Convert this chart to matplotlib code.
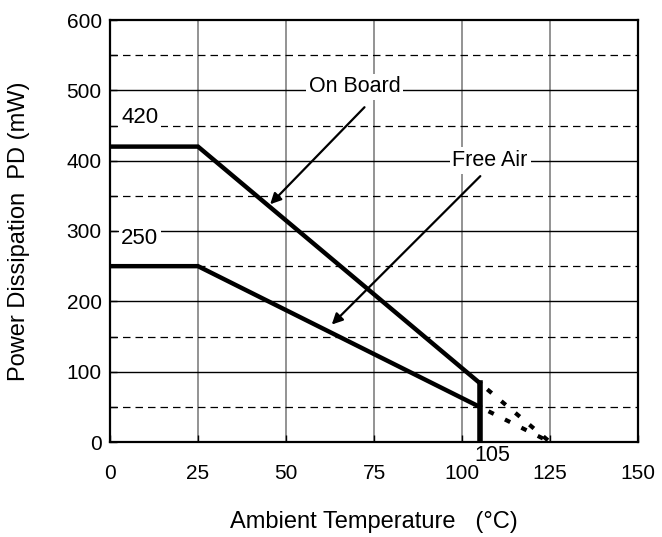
import matplotlib
matplotlib.use("Agg")
import matplotlib.pyplot as plt

plt.rcParams['font.family'] = ['Liberation Sans', 'DejaVu Sans']

# data
onboard_x = [0, 25, 105]
onboard_y = [420, 420, 84]
freeair_x = [0, 25, 105]
freeair_y = [250, 250, 50]
onboard_ext_x = [105, 125]
onboard_ext_y = [84, 0]
freeair_ext_x = [105, 125]
freeair_ext_y = [50, 0]
cutoff_x = [105, 105]
cutoff_y = [0, 84]
x_ticks = [0, 25, 50, 75, 100, 125, 150]
y_ticks = [0, 100, 200, 300, 400, 500, 600]

fig = plt.figure(figsize=(6.62, 5.37), dpi=100)
ax = fig.add_axes([110/662, 95/537, 528/662, 422/537])
ax.set_xlim(0, 150)
ax.set_ylim(0, 600)

# grid
for xv in [25, 50, 75, 100, 125]:
    ax.axvline(xv, color='#808080', lw=1.2, zorder=1)
for yv in [100, 200, 300, 400, 500]:
    ax.axhline(yv, color='black', lw=1.0, zorder=1)
for yv in [50, 150, 250, 350, 450, 550]:
    ax.axhline(yv, color='black', lw=0.9, ls=(0, (6, 4)), zorder=1)

ax.plot(onboard_x, onboard_y, color='black', lw=3.2, solid_joinstyle='miter', zorder=3)
ax.plot(freeair_x, freeair_y, color='black', lw=3.2, solid_joinstyle='miter', zorder=3)
ax.plot(onboard_ext_x, onboard_ext_y, color='black', lw=3, ls=(2, (1.4, 3.0)), zorder=3)
ax.plot(freeair_ext_x, freeair_ext_y, color='black', lw=3, ls=(2, (1.4, 3.0)), zorder=3)
ax.plot(cutoff_x, cutoff_y, color='black', lw=4, zorder=3)

box = dict(facecolor='white', edgecolor='none', pad=2)
ax.text(8.5, 462, '420', fontsize=16, ha='center', va='center', bbox=box, zorder=4)
ax.text(8.5, 290, '250', fontsize=16, ha='center', va='center', bbox=box, zorder=4)
ax.text(69.5, 505, 'On Board', fontsize=15.5, ha='center', va='center', bbox=box, zorder=4)
ax.text(108, 400, 'Free Air', fontsize=15.5, ha='center', va='center', bbox=box, zorder=4)

ax.annotate('', xy=(45.5, 338), xytext=(72.3, 476),
            arrowprops=dict(arrowstyle='-|>', color='black', lw=1.6,
                            mutation_scale=16, shrinkA=0, shrinkB=0), zorder=5)
ax.annotate('', xy=(63, 167), xytext=(105.2, 378),
            arrowprops=dict(arrowstyle='-|>', color='black', lw=1.6,
                            mutation_scale=16, shrinkA=0, shrinkB=0), zorder=5)

ax.text(108.5, -4, '105', fontsize=15.5, ha='center', va='top', zorder=5, clip_on=False)

ax.set_xticks(x_ticks)
ax.set_yticks(y_ticks)
ax.set_yticks([50, 150, 250, 350, 450, 550], minor=True)
ax.tick_params(axis='both', which='both', direction='in', labelsize=15, length=5, width=1)
ax.tick_params(axis='x', pad=16)
ax.tick_params(axis='y', pad=6)
for s in ax.spines.values():
    s.set_linewidth(1.6)
    s.set_zorder(6)

ax.set_xlabel('Ambient Temperature   (°C)', fontsize=17, labelpad=20)
ax.set_ylabel('Power Dissipation  PD (mW)', fontsize=17, labelpad=26)

fig.savefig('out.png', dpi=100)
